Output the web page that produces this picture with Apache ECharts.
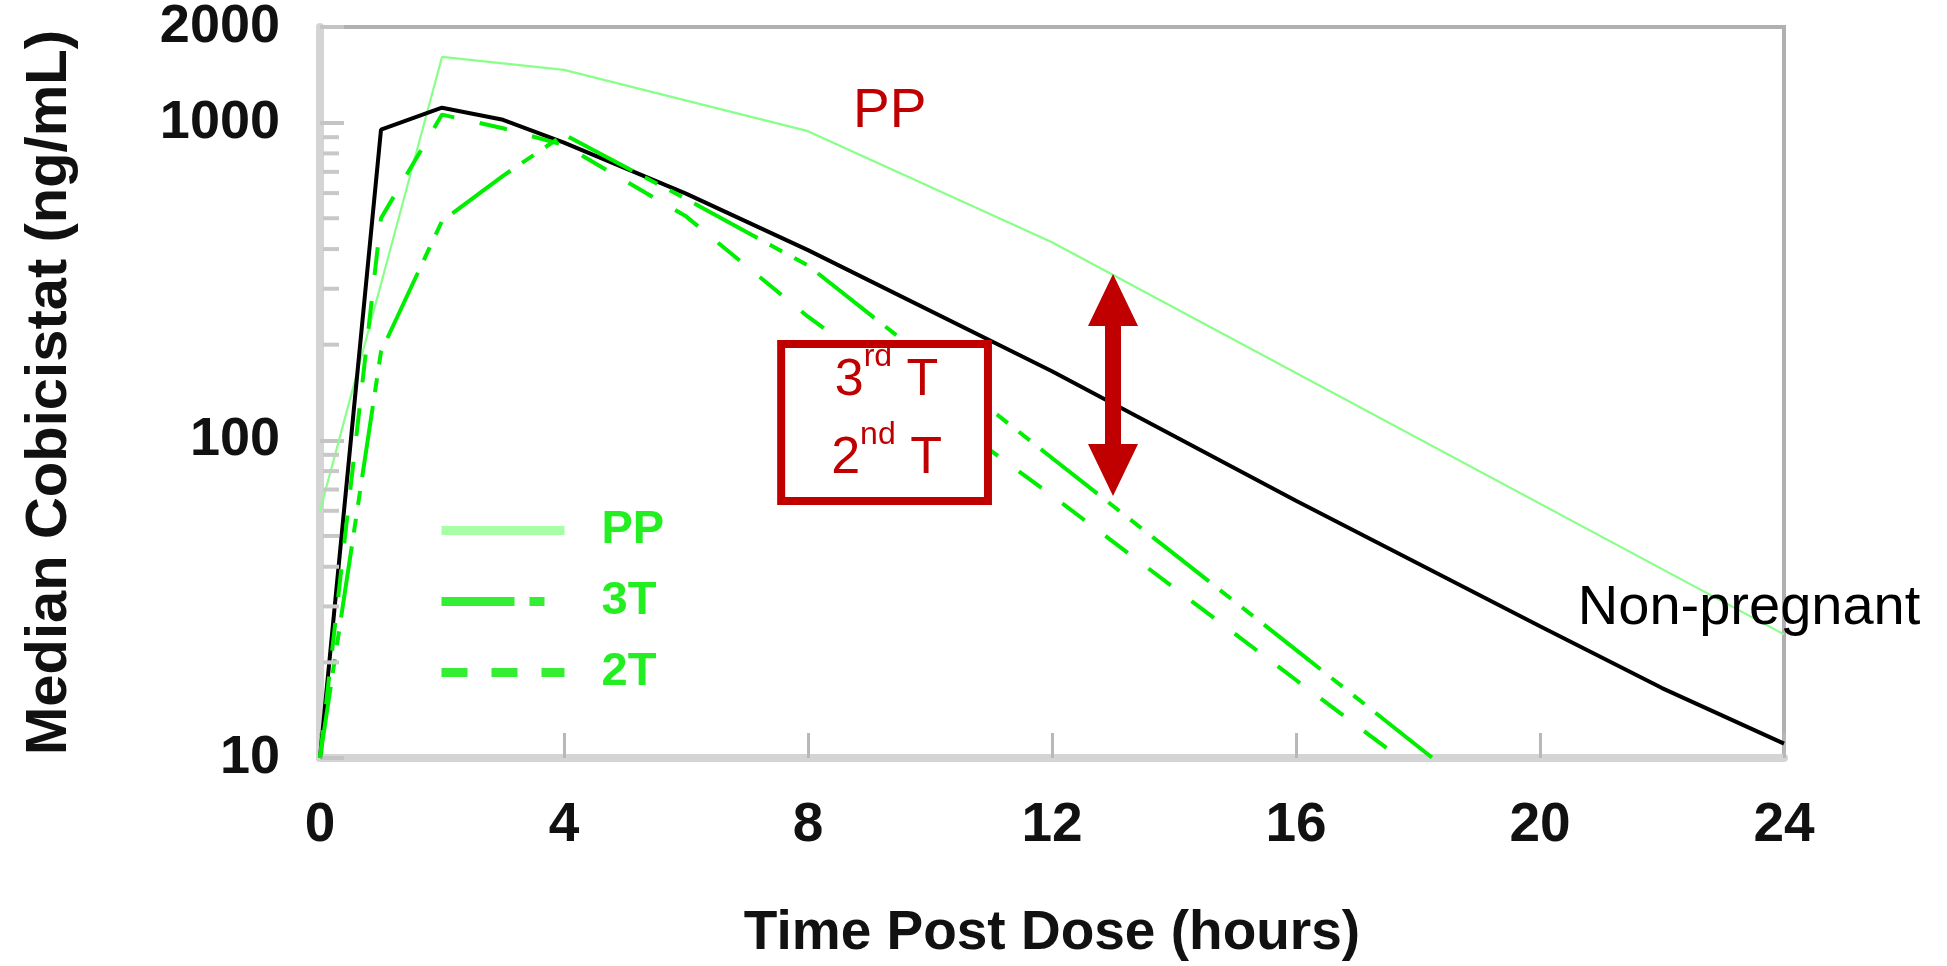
<!DOCTYPE html>
<html><head><meta charset="utf-8">
<script src="https://cdn.jsdelivr.net/npm/echarts@6/dist/echarts.min.js"></script>
<style>html,body{margin:0;padding:0;background:#fff}#c{width:1947px;height:966px}</style>
</head><body><div id="c"></div>
<script>
// ---- data (hours, ng/mL) ----
const npTime = [0, 1, 2, 3, 4, 6, 8, 12, 16, 20, 22, 24];
const npConc = [10, 950, 1114, 1021, 865, 598, 397, 165, 64.5, 26, 16.6, 11.1];
const ppTime = [0, 2, 4, 8, 12, 24];
const ppConc = [60, 1610, 1466, 940, 420, 24.5];
const t3Time = [0, 1, 2, 3, 4, 6, 8, 12, 16, 24];
const t3Conc = [10, 190, 490, 680, 917, 575, 355, 88, 21.9, 1.33];
const t2Time = [0, 1, 2, 3, 4, 6, 8, 12, 16, 24];
const t2Conc = [10, 500, 1060, 960, 850, 507, 245, 67, 17.6, 1.24];
const xTicks = [0, 4, 8, 12, 16, 20, 24];
const minorTickValues = [20, 30, 40, 50, 60, 70, 80, 90, 200, 300, 400, 500, 600, 700, 800, 900];
const legendNames = ['PP', '3T', '2T'];

const FONT = "'Liberation Sans', Arial, sans-serif";
const GREEN = '#00ee00';
const RED = '#c00000';
const zip = (a, b) => a.map((x, i) => [x, b[i]]);
const noSym = {color: 'transparent', borderColor: 'transparent', borderWidth: 0, opacity: 0};

const chart = echarts.init(document.getElementById('c'), null, {renderer: 'canvas'});
chart.setOption({
  animation: false,
  backgroundColor: '#ffffff',
  grid: {left: 320, right: 163, top: 27, bottom: 205, show: true, borderColor: '#b0b0b0', borderWidth: 4, backgroundColor: '#fff'},
  legend: {
    orient: 'vertical', left: 432, top: 502, itemWidth: 123, itemHeight: 44, itemGap: 24,
    selectedMode: false,
    textStyle: {fontFamily: FONT, fontWeight: 'bold', fontSize: 47, color: '#22ee22', padding: [0, 0, 0, 32]},
    itemStyle: noSym,
    lineStyle: {width: 9},
    data: [
      {name: legendNames[0], itemStyle: noSym, lineStyle: {color: '#a6ffa6', width: 9, type: 'solid'}},
      {name: legendNames[1], itemStyle: noSym, lineStyle: {color: '#33ee33', width: 9, type: [73, 15, 15, 20]}},
      {name: legendNames[2], itemStyle: noSym, lineStyle: {color: '#33ee33', width: 9, type: [26, 24]}}
    ]
  },
  xAxis: {
    type: 'value', min: 0, max: 24, interval: 4,
    axisLine: {show: true, lineStyle: {color: '#d4d4d4', width: 8}},
    axisTick: {show: true, inside: true, length: 25, lineStyle: {color: '#b8b8b8', width: 3}},
    axisLabel: {margin: 40, fontSize: 55, fontWeight: 'bold', color: '#111', fontFamily: FONT,
      formatter: v => xTicks.includes(v) ? String(v) : ''},
    splitLine: {show: false},
    name: 'Time Post Dose (hours)', nameLocation: 'middle', nameGap: 148,
    nameTextStyle: {fontSize: 55, fontWeight: 'bold', color: '#111', fontFamily: FONT}
  },
  yAxis: {
    type: 'log', logBase: 10, min: 10, max: 2000,
    axisLine: {show: true, lineStyle: {color: '#d4d4d4', width: 8}},
    axisTick: {show: true, inside: true, length: 24, lineStyle: {color: '#c4c4c4', width: 4}},
    axisLabel: {margin: 40, fontSize: 54, fontWeight: 'bold', color: '#111', fontFamily: FONT,
      formatter: v => String(Math.round(v))},
    splitLine: {show: false},
    name: 'Median Cobicistat (ng/mL)', nameLocation: 'middle', nameRotate: 90, nameGap: 241,
    nameTextStyle: {fontSize: 58, fontWeight: 'bold', color: '#111', fontFamily: FONT}
  },
  series: [
    {name: 'PP', type: 'line', data: zip(ppTime, ppConc), symbol: 'none', clip: true, z: 2,
     color: '#88ff88', lineStyle: {color: '#88ff88', width: 2.2}},
    {name: 'Non-pregnant', type: 'line', data: zip(npTime, npConc), symbol: 'none', clip: true, z: 3,
     color: '#000', lineStyle: {color: '#000', width: 4}},
    {name: '3T', type: 'line', data: zip(t3Time, t3Conc), symbol: 'none', clip: true, z: 4,
     color: GREEN, lineStyle: {color: GREEN, width: 4, type: [72, 14, 14, 14, 14, 14]}},
    {name: '2T', type: 'line', data: zip(t2Time, t2Conc), symbol: 'none', clip: true, z: 5,
     color: GREEN, lineStyle: {color: GREEN, width: 4, type: [28, 26]}},
    {name: 'minorTicks', type: 'custom', silent: true, z: 6, clip: false,
     data: minorTickValues.map(v => [0, v]),
     renderItem: (params, api) => {
       const p = api.coord([0, api.value(1)]);
       return {type: 'line', shape: {x1: p[0] + 3, y1: p[1], x2: p[0] + 19, y2: p[1]},
               style: {stroke: '#c8c8c8', lineWidth: 4}};
     }}
  ]
});

// ---- annotations, anchored in data coordinates ----
const pt = (t, v) => chart.convertToPixel({xAxisIndex: 0, yAxisIndex: 0}, [t, v]);
const ppLbl = pt(9.34, 1081);
const boxA = pt(7.56, 201), boxB = pt(10.95, 64.4);
const arT = pt(13, 334), arB = pt(13, 66.8);
const npLbl = pt(20.62, 29.5);
const ax = arT[0], yT = arT[1], yB = arB[1], hw = 25, sw = 8, hl = 52;

chart.setOption({
  graphic: [
    {type: 'text', z: 100, style: {text: 'PP', x: ppLbl[0], y: ppLbl[1], align: 'center', verticalAlign: 'middle',
      fill: RED, fontSize: 55, fontFamily: FONT}},
    {type: 'rect', z: 100, shape: {x: boxA[0], y: boxA[1], width: boxB[0] - boxA[0], height: boxB[1] - boxA[1]},
      style: {fill: '#fff', stroke: RED, lineWidth: 8}},
    {type: 'text', z: 101, style: {
      text: '{n|3}{s|rd}{n| T}\n{n|2}{s|nd}{n| T}',
      x: (boxA[0] + boxB[0]) / 2 + 2, y: (boxA[1] + boxB[1]) / 2 - 3, align: 'center', verticalAlign: 'middle',
      fill: RED, fontFamily: FONT,
      rich: {
        n: {fontSize: 52, lineHeight: 78, fill: RED, fontFamily: FONT},
        s: {fontSize: 32, lineHeight: 46, verticalAlign: 'top', fill: RED, fontFamily: FONT}
      }}},
    {type: 'polygon', z: 100, shape: {points: [
      [ax, yT], [ax + hw, yT + hl], [ax + sw, yT + hl], [ax + sw, yB - hl], [ax + hw, yB - hl],
      [ax, yB], [ax - hw, yB - hl], [ax - sw, yB - hl], [ax - sw, yT + hl], [ax - hw, yT + hl]]},
      style: {fill: RED}},
    {type: 'text', z: 100, style: {text: 'Non-pregnant', x: npLbl[0], y: npLbl[1], align: 'left', verticalAlign: 'middle',
      fill: '#000', fontSize: 56, fontFamily: FONT}}
  ]
});
</script></body></html>
